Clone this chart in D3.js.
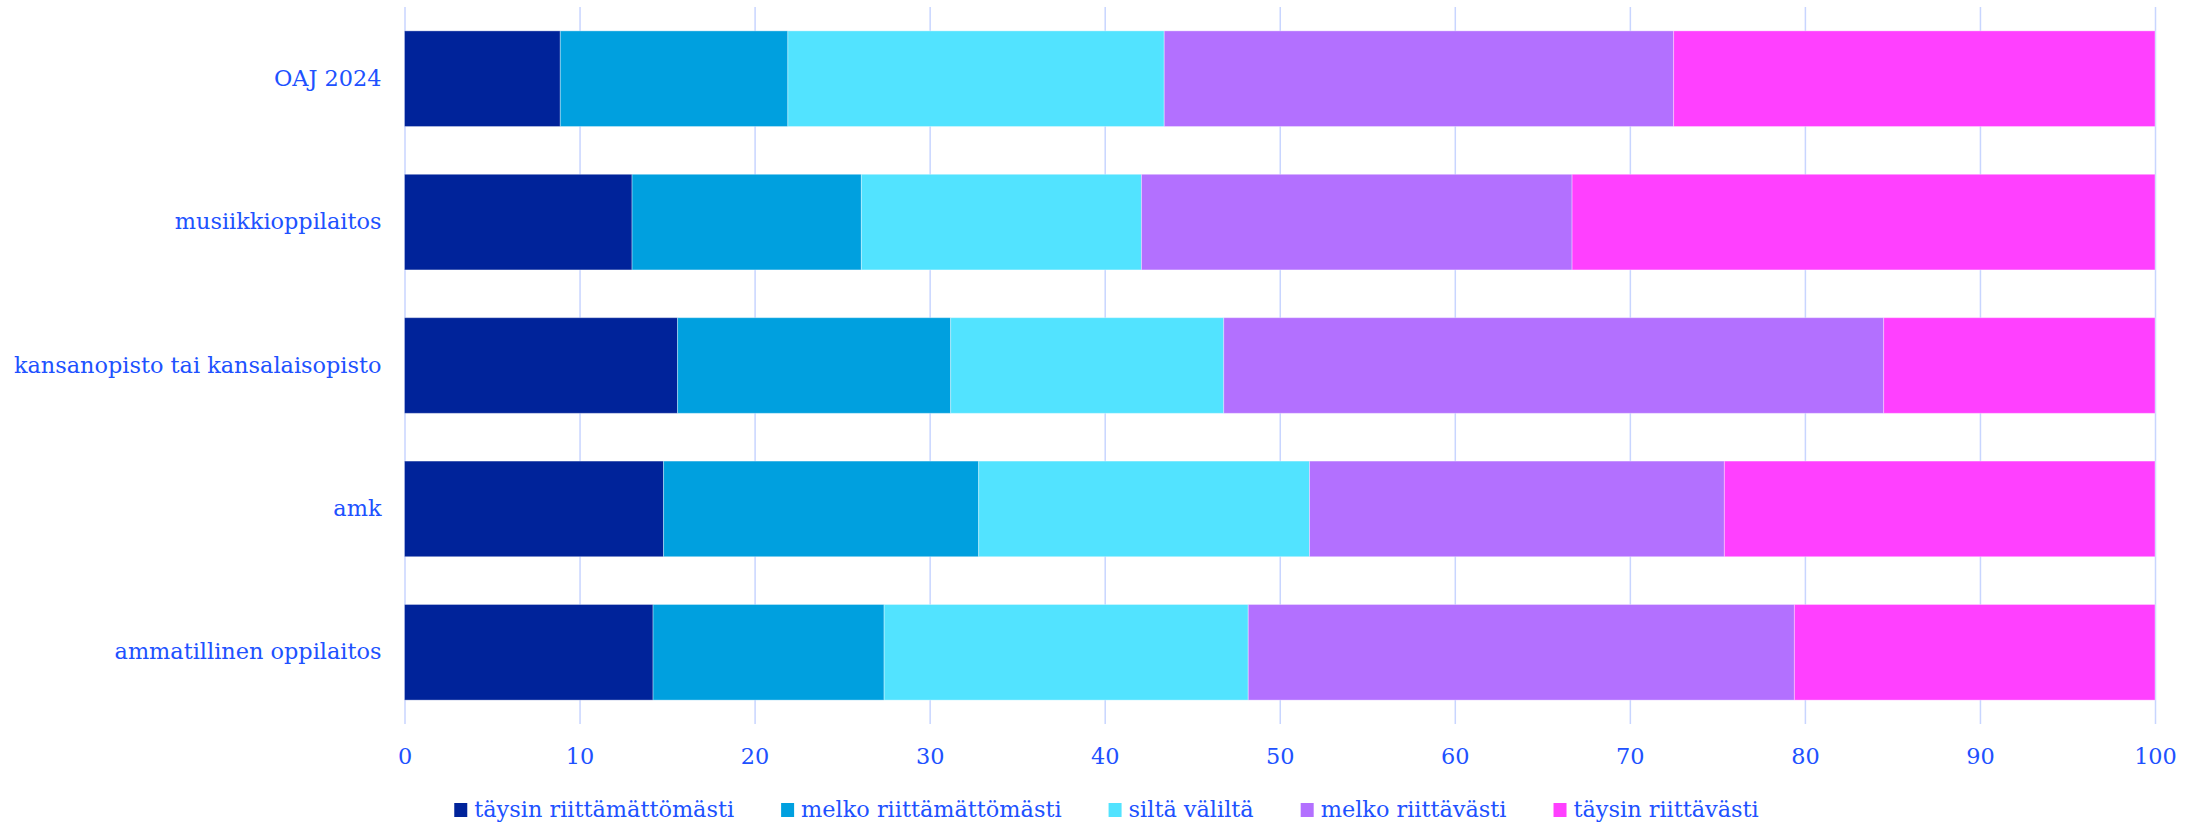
<!DOCTYPE html>
<html>
<head>
<meta charset="utf-8">
<script src="https://cdn.jsdelivr.net/npm/d3@7"></script>
<style>
  html, body { margin: 0; padding: 0; background: #fff; }
  svg { display: block; }
  text { font-family: "DejaVu Serif", serif; }
</style>
</head>
<body>
<svg id="chart" width="2203" height="825"></svg>
<script>
const categories = ["OAJ 2024", "musiikkioppilaitos", "kansanopisto tai kansalaisopisto", "amk", "ammatillinen oppilaitos"];
const seriesNames = ["täysin riittämättömästi", "melko riittämättömästi", "siltä väliltä", "melko riittävästi", "täysin riittävästi"];
const taysinRiittamattomasti = [8.9, 13.0, 15.6, 14.8, 14.2];
const melkoRiittamattomasti  = [13.0, 13.1, 15.6, 18.0, 13.2];
const siltaValilta           = [21.5, 16.0, 15.6, 18.9, 20.8];
const melkoRiittavasti       = [29.1, 24.6, 37.7, 23.7, 31.2];
const taysinRiittavasti      = [27.5, 33.3, 15.5, 24.6, 20.6];
const xTicks = [0, 10, 20, 30, 40, 50, 60, 70, 80, 90, 100];
const colors = ["#00239a", "#00a0df", "#52e3ff", "#b370ff", "#ff40ff"];

const textColor = "#2051ff";
const gridColor = "#c8d5ff";
const fontSize = 22.4;

const seriesValues = [taysinRiittamattomasti, melkoRiittamattomasti, siltaValilta, melkoRiittavasti, taysinRiittavasti];
const rows = categories.map((c, i) => {
  const r = { category: c };
  seriesNames.forEach((s, j) => { r[s] = seriesValues[j][i]; });
  return r;
});

const svg = d3.select("#chart");
const x = d3.scaleLinear().domain([0, 100]).range([404.5, 2155]);
const y = d3.scaleBand().domain(categories).range([7, 724]).paddingInner(0.333).paddingOuter(0.1665);

// grid + x axis
const xAxis = d3.axisBottom(x).tickValues(xTicks).tickSize(-(724 - 7)).tickPadding(24).tickFormat(d3.format("d"));
const gx = svg.append("g").attr("transform", "translate(0,724)").call(xAxis);
gx.select(".domain").remove();
gx.selectAll(".tick line").attr("stroke", gridColor).attr("stroke-width", 1.5);
gx.selectAll(".tick text").attr("fill", textColor).attr("font-size", fontSize).attr("font-family", "DejaVu Serif, serif");

// stacked bars
const stack = d3.stack().keys(seriesNames);
const stacked = stack(rows);
svg.append("g").selectAll("g")
  .data(stacked)
  .join("g")
  .attr("fill", (d, i) => colors[i])
  .selectAll("rect")
  .data(d => d)
  .join("rect")
  .attr("x", d => x(d[0]))
  .attr("width", d => x(d[1]) - x(d[0]))
  .attr("y", d => y(d.data.category))
  .attr("height", y.bandwidth())
  .attr("stroke", "rgba(255,255,255,0.35)")
  .attr("stroke-width", 1);

// category labels
const yAxis = d3.axisLeft(y).tickSize(0).tickPadding(23);
const gy = svg.append("g").attr("transform", "translate(404.5,0)").call(yAxis);
gy.select(".domain").remove();
gy.selectAll(".tick text").attr("fill", textColor).attr("font-size", fontSize).attr("font-family", "DejaVu Serif, serif");

// legend
const legend = svg.append("g");
const items = legend.selectAll("g").data(seriesNames).join("g");
items.append("rect").attr("width", 13).attr("height", 14).attr("y", -14).attr("fill", (d, i) => colors[i]);
items.append("text").attr("x", 20).attr("y", 0).attr("fill", textColor).attr("font-size", fontSize).text(d => d);
let cx = 0;
const gap = 47;
items.each(function () {
  const g = d3.select(this);
  const w = 20 + g.select("text").node().getComputedTextLength();
  g.attr("transform", `translate(${cx},0)`);
  cx += w + gap;
});
const totalW = cx - gap;
legend.attr("transform", `translate(${1106.5 - totalW / 2},817)`);
</script>
</body>
</html>
